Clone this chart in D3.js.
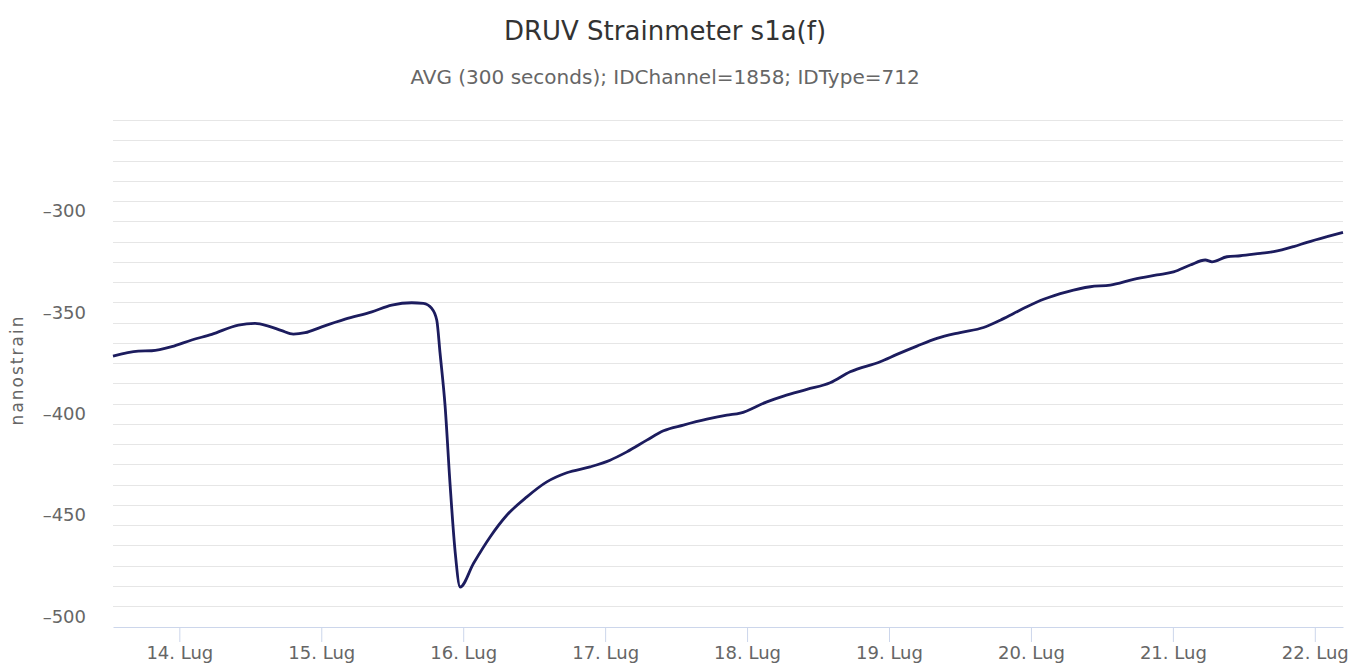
<!DOCTYPE html>
<html>
<head>
<meta charset="utf-8">
<script src="https://cdn.jsdelivr.net/npm/d3@7"></script>
<style>
  body { margin: 0; background: #fff; }
  text { font-family: "DejaVu Sans", Verdana, sans-serif; }
</style>
</head>
<body>
<div id="chart"></div>
<script>
// readings from the reference, UTC
var times = ["07-13 12:47","07-13 17:04","07-13 19:20","07-13 22:43","07-14 02:06","07-14 05:29",
  "07-14 09:59","07-14 12:48","07-14 15:03","07-14 17:19","07-14 19:17","07-14 21:16",
  "07-15 00:05","07-15 04:02","07-15 08:33","07-15 11:55","07-15 15:18","07-15 17:16",
  "07-15 18:41","07-15 19:32","07-15 20:05","07-15 20:56","07-15 21:47","07-15 22:38",
  "07-15 23:29","07-16 01:44","07-16 04:33","07-16 07:22","07-16 10:46","07-16 14:08",
  "07-16 17:31","07-16 21:28","07-17 00:50","07-17 03:40","07-17 07:03","07-17 09:52",
  "07-17 13:14","07-17 17:12","07-17 20:35","07-17 22:50","07-18 03:21","07-18 06:10",
  "07-18 10:07","07-18 14:03","07-18 17:26","07-18 22:31","07-19 01:20","07-19 04:43",
  "07-19 08:06","07-19 12:02","07-19 15:59","07-19 18:49","07-19 21:04","07-19 23:19",
  "07-20 02:08","07-20 06:05","07-20 10:02","07-20 13:25","07-20 17:21","07-20 21:19",
  "07-21 00:07","07-21 02:56","07-21 05:29","07-21 06:37","07-21 09:09","07-21 11:24",
  "07-21 14:47","07-21 17:02","07-21 20:25","07-21 22:41","07-22 02:04","07-22 04:46"];
var values = [-371.5,-369.1,-368.9,-366.9,-363.6,-360.8,
  -356.2,-355.4,-356.7,-359.0,-360.7,-360.0,
  -357.1,-353.3,-349.7,-346.4,-345.2,-345.5,
  -348.0,-353.8,-370.0,-396.0,-435.0,-468.0,
  -485.5,-473.9,-460.8,-450.1,-441.0,-433.6,
  -429.1,-426.2,-422.9,-418.8,-413.0,-408.4,
  -405.6,-402.7,-400.7,-399.7,-394.1,-391.3,
  -388.0,-384.7,-379.3,-374.3,-370.7,-366.6,
  -362.8,-359.9,-357.4,-353.8,-350.5,-347.2,
  -343.5,-339.8,-337.3,-336.5,-333.7,-331.5,
  -330.0,-326.6,-324.1,-325.0,-322.5,-322.0,
  -320.8,-320.0,-317.5,-315.4,-312.6,-310.5];
var xRange = ["07-13 12:47", "07-22 04:46"];
var yRange = [-505, -255];
var yLabels = [-500, -450, -400, -350, -300];
var dayTicks = ["07-14 00:00","07-15 00:00","07-16 00:00","07-17 00:00","07-18 00:00",
  "07-19 00:00","07-20 00:00","07-21 00:00","07-22 00:00"];

var parse = d3.utcParse("%m-%d %H:%M");
var data = times.map(function(t, i) { return {t: parse(t), v: values[i]}; });

var margin = {top: 120, right: 15, bottom: 37.5, left: 113},
    W = 1358, H = 664,
    width = W - margin.left - margin.right,
    height = H - margin.top - margin.bottom;

var svg = d3.select("#chart").append("svg")
    .attr("width", W).attr("height", H);

svg.append("text")
  .attr("x", 665).attr("y", 40)
  .attr("text-anchor", "middle")
  .style("font-size", "26px").style("fill", "#333")
  .text("DRUV Strainmeter s1a(f)");

svg.append("text")
  .attr("x", 665).attr("y", 84)
  .attr("text-anchor", "middle")
  .style("font-size", "20px").style("fill", "#666")
  .text("AVG (300 seconds); IDChannel=1858; IDType=712");

var g = svg.append("g")
  .attr("transform", "translate(" + margin.left + "," + margin.top + ")");

var x = d3.scaleUtc().domain(xRange.map(parse)).range([0, width]);
var y = d3.scaleLinear().domain(yRange).range([height, 0]);

// grid every 10 units
var gridVals = d3.range(yRange[0] + 10, yRange[1] + 0.1, 10);
g.append("g").selectAll("line")
  .data(gridVals).enter().append("line")
    .attr("x1", 0).attr("x2", width)
    .attr("y1", function(d) { return Math.round(y(d)) + 0.5; })
    .attr("y2", function(d) { return Math.round(y(d)) + 0.5; })
    .style("stroke", "#e6e6e6");

// y labels
g.append("g").selectAll("text")
  .data(yLabels).enter().append("text")
    .attr("x", -27).attr("y", function(d) { return y(d); })
    .attr("dy", "0.35em")
    .attr("text-anchor", "end")
    .style("font-size", "18px").style("fill", "#666")
    .text(function(d) { return "\u2013" + Math.abs(d); });

svg.append("text")
  .attr("transform", "translate(23,370) rotate(-90)")
  .attr("text-anchor", "middle")
  .style("font-size", "17px").style("fill", "#666").style("letter-spacing", "2px")
  .text("nanostrain");

// x axis
var xAxis = g.append("g")
  .attr("transform", "translate(0," + (height + 0.5) + ")")
  .call(d3.axisBottom(x)
    .tickValues(dayTicks.map(parse))
    .tickSize(15).tickSizeOuter(0)
    .tickFormat(d3.utcFormat("%-d. Lug")));
xAxis.select(".domain").style("stroke", "#ccd6eb");
xAxis.selectAll(".tick line").style("stroke", "#ccd6eb");
xAxis.selectAll(".tick text")
  .attr("y", 19)
  .style("font-size", "18px").style("fill", "#666")
  .style("font-family", "'DejaVu Sans', Verdana, sans-serif");

var line = d3.line()
  .x(function(d) { return x(d.t); })
  .y(function(d) { return y(d.v); })
  .curve(d3.curveMonotoneX);

g.append("path")
  .datum(data)
  .attr("d", line)
  .style("fill", "none")
  .style("stroke", "#1c1c5e")
  .style("stroke-width", 2.8)
  .style("stroke-linejoin", "round");
</script>
</body>
</html>
